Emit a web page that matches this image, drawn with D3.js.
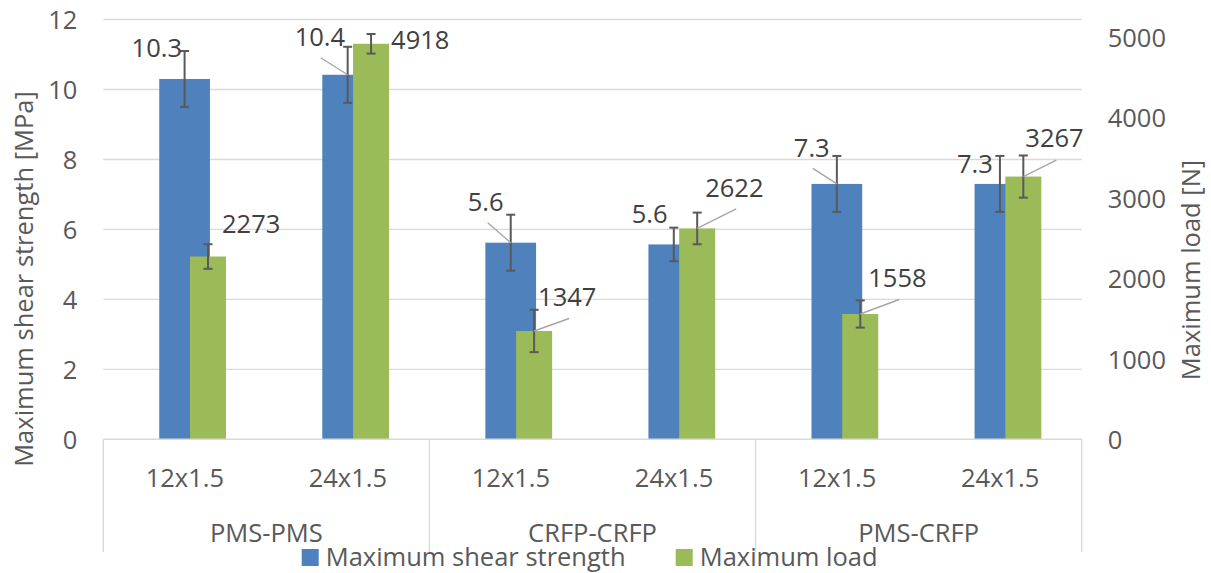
<!DOCTYPE html>
<html>
<head>
<meta charset="utf-8">
<script src="https://cdn.jsdelivr.net/npm/d3@7"></script>
<style>
  html, body { margin: 0; padding: 0; background: #fff; }
  svg { display: block; }
  text { font-family: "Open Sans", sans-serif; }
</style>
</head>
<body>
<svg id="chart" width="1211" height="573"></svg>
<script>
// ---- data ----
const groups = ["PMS-PMS", "CRFP-CRFP", "PMS-CRFP"];
const subCategories = ["12x1.5", "24x1.5", "12x1.5", "24x1.5", "12x1.5", "24x1.5"];
const shearStrength = [10.3, 10.42, 5.62, 5.57, 7.3, 7.3];      // MPa
const shearError = [0.8, 0.8, 0.8, 0.48, 0.8, 0.8];
const maxLoad = [2273, 4918, 1347, 2622, 1558, 3267];            // N
const loadError = [153, 122, 263, 197, 169, 262];
const leftTicks = [0, 2, 4, 6, 8, 10, 12];
const rightTicks = [0, 1000, 2000, 3000, 4000, 5000];
const seriesNames = ["Maximum shear strength", "Maximum load"];

// ---- layout (label offsets relative to bar top) ----
const shearLabelPos = [
  {dx: -53, dy: -22, leader: null},
  {dx: -53, dy: -29, leader: [-27, -17]},
  {dx: -43, dy: -32, leader: [-23, -20]},
  {dx: -42, dy: -21, leader: null},
  {dx: -43, dy: -27, leader: [-24, -15.5]},
  {dx: -43, dy: -10.5, leader: null}
];
const loadLabelPos = [
  {dx: 14, dy: -24, leader: null},
  {dx: 20, dy: 5.5, leader: null},
  {dx: 4, dy: -25, leader: [35, -12.5]},
  {dx: 8, dy: -31.5, leader: [39, -19.5]},
  {dx: 8, dy: -27, leader: [39, -14.5]},
  {dx: 2, dy: -30, leader: [33, -16.5]}
];

const colors = {blue: "#4f81bd", green: "#9bbb59", grid: "#d9d9d9", tick: "#595959", label: "#404040", err: "#595959", leader: "#a6a6a6"};
const FS = 25.5;

const svg = d3.select("#chart");
const x0 = 103.3, x1 = 1081.7, yBase = 439.3, yTop = 19.5, catBottom = 552;

const x = d3.scaleBand().domain(d3.range(subCategories.length)).range([x0, x1]).paddingInner(0).paddingOuter(0);
const yL = d3.scaleLinear().domain([0, 12]).range([yBase, yTop]);
const yR = d3.scaleLinear().domain([0, 5220]).range([yBase, yTop]);

const bw = x.bandwidth();
const blueCenter = i => x(i) + bw * 0.4985;
const greenCenter = i => x(i) + bw * 0.642;
const blueW = bw * 0.311, greenW = bw * 0.2208;

// gridlines
svg.append("g").selectAll("line").data(leftTicks.filter(d => d > 0)).join("line")
  .attr("x1", x0).attr("x2", x1)
  .attr("y1", d => yL(d)).attr("y2", d => yL(d))
  .attr("stroke", colors.grid).attr("stroke-width", 1.4);

// left axis
const leftAxis = svg.append("g").attr("transform", `translate(${x0 - 26},0)`)
  .call(d3.axisLeft(yL).tickValues(leftTicks).tickSize(0).tickPadding(0).tickFormat(d3.format("d")));
leftAxis.select(".domain").remove();
leftAxis.selectAll("text").attr("font-size", FS).attr("fill", colors.tick)
  .attr("font-family", "Open Sans").attr("dy", "0.36em");

// right axis
const rightAxis = svg.append("g").attr("transform", `translate(${x1 + 26},0)`)
  .call(d3.axisRight(yR).tickValues(rightTicks).tickSize(0).tickPadding(0).tickFormat(d3.format("d")));
rightAxis.select(".domain").remove();
rightAxis.selectAll("text").attr("font-size", FS).attr("fill", colors.tick)
  .attr("font-family", "Open Sans").attr("dy", "0.36em");

// bars
svg.append("g").selectAll("rect").data(shearStrength).join("rect")
  .attr("x", (d, i) => blueCenter(i) - blueW / 2).attr("width", blueW)
  .attr("y", d => yL(d)).attr("height", d => yBase - yL(d))
  .attr("fill", colors.blue);
svg.append("g").selectAll("rect").data(maxLoad).join("rect")
  .attr("x", (d, i) => greenCenter(i) - greenW / 2).attr("width", greenW)
  .attr("y", d => yR(d)).attr("height", d => yBase - yR(d))
  .attr("fill", colors.green);

// category axis line & group separators
svg.append("line").attr("x1", x0).attr("x2", x1).attr("y1", yBase).attr("y2", yBase)
  .attr("stroke", colors.grid).attr("stroke-width", 1.4);
const sepX = [x(0), x(2), x(4), x1];
svg.append("g").selectAll("line").data(sepX).join("line")
  .attr("x1", d => d).attr("x2", d => d).attr("y1", yBase).attr("y2", catBottom)
  .attr("stroke", colors.grid).attr("stroke-width", 1.4);

// category labels
svg.append("g").selectAll("text").data(subCategories).join("text")
  .attr("x", (d, i) => x(i) + bw / 2).attr("y", 486.5)
  .attr("text-anchor", "middle").attr("font-size", FS).attr("fill", colors.tick)
  .text(d => d);
svg.append("g").selectAll("text").data(groups).join("text")
  .attr("x", (d, i) => (x(i * 2) + x(i * 2 + 1) + bw) / 2).attr("y", 541.5)
  .attr("text-anchor", "middle").attr("font-size", FS).attr("fill", colors.tick)
  .text(d => d);

// error bars
function errorBars(vals, errs, cx, scale) {
  const g = svg.append("g").attr("stroke", colors.err).attr("stroke-width", 2).attr("fill", "none");
  vals.forEach((v, i) => {
    const cxi = cx(i), top = scale(v + errs[i]), bot = scale(v - errs[i]);
    g.append("line").attr("x1", cxi).attr("x2", cxi).attr("y1", top).attr("y2", bot);
    g.append("line").attr("x1", cxi - 4.5).attr("x2", cxi + 4.5).attr("y1", top).attr("y2", top);
    g.append("line").attr("x1", cxi - 4.5).attr("x2", cxi + 4.5).attr("y1", bot).attr("y2", bot);
  });
}
errorBars(shearStrength, shearError, blueCenter, yL);
errorBars(maxLoad, loadError, greenCenter, yR);

// data labels with leader lines
function dataLabels(vals, cx, scale, pos, fmt) {
  const g = svg.append("g");
  vals.forEach((v, i) => {
    const ax = cx(i), ay = scale(v), p = pos[i];
    if (p.leader) {
      g.append("line").attr("x1", ax + p.leader[0]).attr("y1", ay + p.leader[1])
        .attr("x2", ax).attr("y2", ay)
        .attr("stroke", colors.leader).attr("stroke-width", 1.4);
    }
    g.append("text").attr("x", ax + p.dx).attr("y", ay + p.dy)
      .attr("font-size", FS).attr("fill", colors.label).text(fmt(v));
  });
}
dataLabels(shearStrength, blueCenter, yL, shearLabelPos, d3.format(".1f"));
dataLabels(maxLoad, greenCenter, yR, loadLabelPos, d3.format("d"));

// axis titles
svg.append("text").attr("transform", "translate(33,279) rotate(-90)")
  .attr("text-anchor", "middle").attr("font-size", FS).attr("fill", colors.tick)
  .text("Maximum shear strength [MPa]");
svg.append("text").attr("transform", "translate(1200,270) rotate(-90)")
  .attr("text-anchor", "middle").attr("font-size", FS).attr("fill", colors.tick)
  .text("Maximum load [N]");

// legend
const legendItems = [
  {name: seriesNames[0], color: colors.blue, x: 301.7},
  {name: seriesNames[1], color: colors.green, x: 675.7}
];
const lg = svg.append("g").selectAll("g").data(legendItems).join("g")
  .attr("transform", d => `translate(${d.x},549)`);
lg.append("rect").attr("width", 17).attr("height", 17).attr("fill", d => d.color);
lg.append("text").attr("x", 24).attr("y", 17).attr("font-size", FS).attr("fill", colors.tick)
  .text(d => d.name);
</script>
</body>
</html>
